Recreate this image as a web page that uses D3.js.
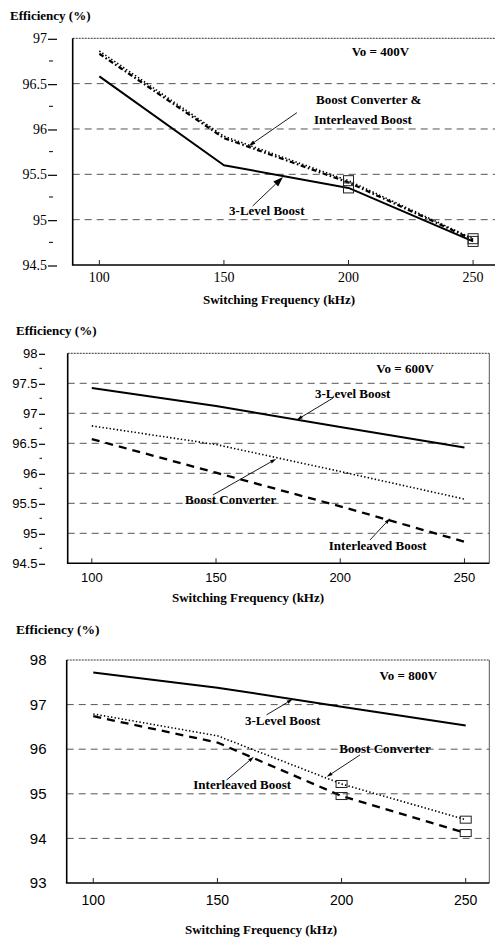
<!DOCTYPE html>
<html>
<head>
<meta charset="utf-8">
<script src="https://cdn.jsdelivr.net/npm/d3@7/dist/d3.min.js"></script>
<style>
  html, body { margin: 0; padding: 0; background: #fff; }
  svg { display: block; }
</style>
</head>
<body>
<svg id="fig" width="495" height="938"></svg>
<script>
// Switching frequency (kHz) at which efficiency was measured
const freq = [100, 150, 200, 250];
const freqTicks = [100, 150, 200, 250];

// Efficiency (%) at Vo = 400 V
const eff400ThreeLevel   = [96.58, 95.60, 95.35, 94.76];
const eff400Boost        = [96.86, 95.92, 95.43, 94.79];
const eff400Interleaved  = [96.83, 95.90, 95.41, 94.78];
const yTicks400 = [94.5, 95, 95.5, 96, 96.5, 97];

// Efficiency (%) at Vo = 600 V
const eff600ThreeLevel   = [97.42, 97.12, 96.77, 96.43];
const eff600Boost        = [96.79, 96.48, 96.03, 95.57];
const eff600Interleaved  = [96.57, 96.01, 95.45, 94.86];
const yTicks600 = [94.5, 95, 95.5, 96, 96.5, 97, 97.5, 98];

// Efficiency (%) at Vo = 800 V
const eff800ThreeLevel   = [97.72, 97.38, 96.95, 96.53];
const eff800Boost        = [96.79, 96.30, 95.22, 94.42];
const eff800Interleaved  = [96.74, 96.15, 94.95, 94.12];
const yTicks800 = [93, 94, 95, 96, 97, 98];

const SERIF = "'Liberation Serif', 'Times New Roman', serif";
const SANS = "'Liberation Sans', Arial, sans-serif";

// line styles
const STYLE = {
  solid:   { width: 2.0, dash: null },
  dotted:  { width: 1.6, dash: "1.4,2.2" },
  dashed:  { width: 2.3, dash: "8,6" },
  dashdot: { width: 2.2, dash: "5,2.5,1.6,2.5" }
};

const panels = [
  {
    box: { left: 72.7, right: 496.5, top: 38.3, bottom: 265 },
    xDomain: [89.3, 259.4], yDomain: [94.5, 97],
    yTicks: yTicks400, yMinor: true, gridAt: [95, 95.5, 96, 96.5],
    tickFont: SERIF, yFont: 14, xFont: 14, yLabelRight: 47, yTickX: [48, 57], yMinorX: [49, 53],
    xLabelY: 277, xTitleY: 299, xTitleX: 279,
    yTitle: { x: 10, y: 15, size: 13 },
    rightBorder: false,
    series: [
      { values: eff400Boost, style: "dotted" },
      { values: eff400Interleaved, style: "dashdot" },
      { values: eff400ThreeLevel, style: "solid" }
    ],
    boxes: [
      { values: eff400Boost, at: [200, 250], w: 10, h: 10 },
      { values: eff400ThreeLevel, at: [200, 250], w: 10, h: 10 }
    ],
    notes: [
      { text: "Vo = 400V", f: 212.8, e: 96.85 },
      { text: "Boost Converter &", f: 208.1, e: 96.33 },
      { text: "Interleaved Boost", f: 205.8, e: 96.11 },
      { text: "3-Level Boost", f: 167.2, e: 95.10 }
    ],
    arrows: [
      { from: [179.3, 96.18], to: [159.85, 95.81], head: [7, 4] },
      { from: [161.5, 95.15], to: [173.7, 95.47], head: [10, 7] }
    ]
  },
  {
    box: { left: 67.7, right: 489.3, top: 353.3, bottom: 563.3 },
    xDomain: [90.3, 260], yDomain: [94.5, 98],
    yTicks: yTicks600, yMinor: true, gridAt: [95, 95.5, 96, 96.5, 97, 97.5],
    tickFont: SANS, yFont: 13, xFont: 13, yLabelRight: 37.5, yTickX: [39, 45], yMinorX: [39.5, 42],
    xLabelY: 577, xTitleY: 597, xTitleX: 248,
    yTitle: { x: 16, y: 330, size: 13 },
    rightBorder: true,
    series: [
      { values: eff600ThreeLevel, style: "solid" },
      { values: eff600Boost, style: "dotted" },
      { values: eff600Interleaved, style: "dashed" }
    ],
    boxes: [],
    notes: [
      { text: "Vo = 600V", f: 226.1, e: 97.755 },
      { text: "3-Level Boost", f: 205.0, e: 97.33 },
      { text: "Boost Converter", f: 155.9, e: 95.57 },
      { text: "Interleaved Boost", f: 215.1, e: 94.79 }
    ],
    arrows: [
      { from: [197.1, 97.255], to: [182.5, 96.89], head: [6, 3.5] },
      { from: [148.8, 95.64], to: [174.2, 96.24], head: [6, 3.5] },
      { from: [212.0, 94.89], to: [220.1, 95.25], head: [6, 3.5] }
    ]
  },
  {
    box: { left: 66.7, right: 489.3, top: 660, bottom: 883 },
    xDomain: [89.3, 259.5], yDomain: [93, 98],
    yTicks: yTicks800, yMinor: false, gridAt: [94, 95, 96, 97],
    tickFont: SANS, yFont: 15, xFont: 14, yLabelRight: 46.5, yTickX: null, yMinorX: null,
    xLabelY: 900, xTitleY: 929, xTitleX: 261,
    yTitle: { x: 16, y: 629, size: 13.5 },
    rightBorder: true,
    series: [
      { values: eff800ThreeLevel, style: "solid" },
      { values: eff800Boost, style: "dotted" },
      { values: eff800Interleaved, style: "dashed" }
    ],
    boxes: [
      { values: eff800Boost, at: [200, 250], w: 11, h: 7 },
      { values: eff800Interleaved, at: [200, 250], w: 11, h: 7 }
    ],
    notes: [
      { text: "Vo = 800V", f: 226.9, e: 97.66 },
      { text: "3-Level Boost", f: 176.3, e: 96.655 },
      { text: "Boost Converter", f: 217.5, e: 96.02 },
      { text: "Interleaved Boost", f: 160.0, e: 95.2 }
    ],
    arrows: [
      { from: [169.8, 96.77], to: [180.3, 97.12], head: [6, 3.5] },
      { from: [207.4, 95.87], to: [194.0, 95.38], head: [6, 3.5] },
      { from: [153.7, 95.31], to: [164.7, 95.83], head: [6, 3.5] }
    ]
  }
];

const svg = d3.select("#fig");

panels.forEach(p => {
  const g = svg.append("g");
  const b = p.box;
  const x = d3.scaleLinear().domain(p.xDomain).range([b.left, b.right]);
  const y = d3.scaleLinear().domain(p.yDomain).range([b.bottom, b.top]);

  // horizontal dashed grid
  g.selectAll("line.grid").data(p.gridAt).join("line")
    .attr("x1", b.left).attr("x2", b.right)
    .attr("y1", d => y(d)).attr("y2", d => y(d))
    .attr("stroke", "#555").attr("stroke-width", 1)
    .attr("stroke-dasharray", "7,5");

  // frame
  g.append("line").attr("x1", b.left).attr("x2", b.right).attr("y1", b.top).attr("y2", b.top)
    .attr("stroke", "#333").attr("stroke-width", 1).attr("stroke-dasharray", "2,1");
  if (p.rightBorder) {
    g.append("line").attr("x1", b.right).attr("x2", b.right).attr("y1", b.top).attr("y2", b.bottom)
      .attr("stroke", "#555").attr("stroke-width", 1);
  }
  g.append("line").attr("x1", b.left).attr("x2", b.left).attr("y1", b.top).attr("y2", b.bottom)
    .attr("stroke", "#000").attr("stroke-width", 1.6);
  g.append("line").attr("x1", b.left - 0.8).attr("x2", b.right).attr("y1", b.bottom).attr("y2", b.bottom)
    .attr("stroke", "#000").attr("stroke-width", 1.6);

  // x axis ticks (inside) and labels
  g.selectAll("line.xt").data(freqTicks).join("line")
    .attr("x1", d => x(d)).attr("x2", d => x(d))
    .attr("y1", b.bottom).attr("y2", b.bottom - 5)
    .attr("stroke", "#222").attr("stroke-width", 1);
  g.selectAll("text.xl").data(freqTicks).join("text")
    .attr("x", d => x(d)).attr("y", p.xLabelY)
    .attr("dy", "0.35em").attr("text-anchor", "middle")
    .attr("font-family", p.tickFont).attr("font-size", p.xFont).attr("fill", "#000")
    .text(d => d);

  // y axis labels and ticks
  g.selectAll("text.yl").data(p.yTicks).join("text")
    .attr("x", p.yLabelRight).attr("y", d => y(d))
    .attr("dy", "0.35em").attr("text-anchor", "end")
    .attr("font-family", p.tickFont).attr("font-size", p.yFont).attr("fill", "#000")
    .text(d => d);
  if (p.yTickX) {
    g.selectAll("line.yt").data(p.yTicks).join("line")
      .attr("x1", p.yTickX[0]).attr("x2", p.yTickX[1])
      .attr("y1", d => y(d) + 1).attr("y2", d => y(d) + 1)
      .attr("stroke", "#000").attr("stroke-width", 1.2);
  }
  if (p.yMinor) {
    const minor = d3.pairs(p.yTicks).map(([a, c]) => (a + c) / 2);
    g.selectAll("line.ym").data(minor).join("line")
      .attr("x1", p.yMinorX[0]).attr("x2", p.yMinorX[1])
      .attr("y1", d => y(d)).attr("y2", d => y(d))
      .attr("stroke", "#000").attr("stroke-width", 1);
  }

  // axis titles
  g.append("text").attr("x", p.yTitle.x).attr("y", p.yTitle.y).attr("dy", "0.35em")
    .attr("font-family", SERIF).attr("font-weight", "bold").attr("font-size", p.yTitle.size)
    .text("Efficiency (%)");
  g.append("text").attr("x", p.xTitleX).attr("y", p.xTitleY).attr("dy", "0.35em")
    .attr("text-anchor", "middle")
    .attr("font-family", SERIF).attr("font-weight", "bold").attr("font-size", 13)
    .text("Switching Frequency (kHz)");

  // efficiency curves
  const line = d3.line().x((d, i) => x(freq[i])).y(d => y(d));
  p.series.forEach(s => {
    const st = STYLE[s.style];
    g.append("path").datum(s.values)
      .attr("d", line)
      .attr("fill", "none").attr("stroke", "#000")
      .attr("stroke-width", st.width)
      .attr("stroke-dasharray", st.dash)
      .attr("stroke-linejoin", "round");
  });

  // open square markers
  p.boxes.forEach(m => {
    const pts = m.at.map(f => ({ f, e: m.values[freq.indexOf(f)] }));
    g.selectAll(null).data(pts).join("rect")
      .attr("x", d => x(d.f) - m.w / 2).attr("y", d => y(d.e) - m.h / 2)
      .attr("width", m.w).attr("height", m.h)
      .attr("fill", "none").attr("stroke", "#222").attr("stroke-width", 1);
  });

  // annotation arrows
  p.arrows.forEach(a => {
    const x0 = x(a.from[0]), y0 = y(a.from[1]);
    const x1 = x(a.to[0]), y1 = y(a.to[1]);
    const ang = Math.atan2(y1 - y0, x1 - x0);
    const [L, W] = a.head;
    const bx = x1 - L * Math.cos(ang), by = y1 - L * Math.sin(ang);
    g.append("line").attr("x1", x0).attr("y1", y0).attr("x2", bx).attr("y2", by)
      .attr("stroke", "#000").attr("stroke-width", 0.9);
    const nx = -Math.sin(ang) * W / 2, ny = Math.cos(ang) * W / 2;
    g.append("path")
      .attr("d", `M${x1},${y1}L${bx + nx},${by + ny}L${bx - nx},${by - ny}Z`)
      .attr("fill", "#000");
  });

  // annotation labels
  g.selectAll("text.note").data(p.notes).join("text")
    .attr("x", d => x(d.f)).attr("y", d => y(d.e))
    .attr("dy", "0.35em").attr("text-anchor", "middle")
    .attr("font-family", SERIF).attr("font-weight", "bold").attr("font-size", 13)
    .attr("fill", "#000")
    .text(d => d.text);
});
</script>
</body>
</html>
